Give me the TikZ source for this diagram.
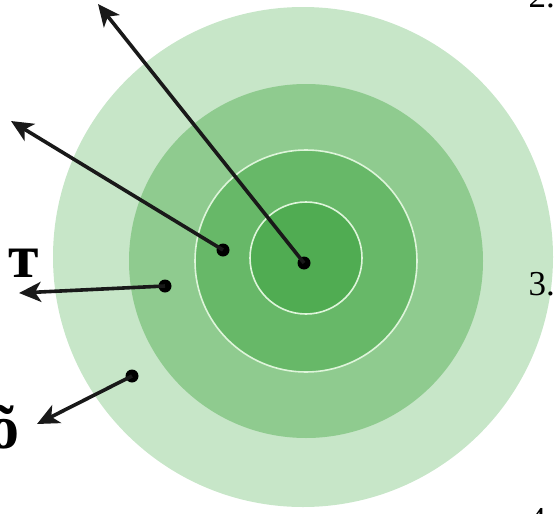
\documentclass[tikz,border=0pt]{standalone}
\usepackage{fontspec}
\setmainfont{Liberation Serif}
\usetikzlibrary{arrows.meta}
\definecolor{ringA}{RGB}{199,230,200}
\definecolor{ringB}{RGB}{143,203,143}
\definecolor{ringC}{RGB}{103,184,104}
\definecolor{ringD}{RGB}{80,172,82}
\definecolor{ringline}{RGB}{222,245,218}
\begin{document}
\begin{tikzpicture}[
    x=1pt, y=-1pt,
    dot/.style={circle, fill=black, inner sep=0pt, minimum size=13pt},
    pointer/.style={-{Stealth[length=22pt, width=20pt, inset=6pt]}, line width=3.6pt, draw=black!90},
    big/.style={font=\fontsize{62}{62}\selectfont\bfseries, inner sep=0pt},
    num/.style={font=\fontsize{35}{35}\selectfont, inner sep=0pt},
  ]
  \useasboundingbox (0,0) rectangle (557,514);
  \clip (0,0) rectangle (557,514);

  % rings
  \fill[ringA] (303,257) circle[radius=250];
  \fill[ringB] (306,261) circle[radius=177];
  \fill[ringC] (306,261) circle[radius=111];
  \draw[ringline, line width=1.6pt] (306,261) circle[radius=111];
  \fill[ringD] (306,258) circle[radius=56];
  \draw[ringline, line width=1.6pt] (306,258) circle[radius=56];

  % dots
  \node[dot] (core) at (304,263) {};
  \node[dot] (mid) at (223,250) {};
  \node[dot] (wide) at (165,286) {};
  \node[dot] (outer) at (132,376) {};

  \coordinate (tipA) at (98,4);
  \coordinate (tipB) at (11,121);
  \coordinate (tipC) at (19,293);
  \coordinate (tipD) at (37,424);

  \draw[pointer] (core.center) -- (tipA);
  \draw[pointer] (mid.center) -- (tipB);
  \draw[pointer] (wide.center) -- (tipC);
  \draw[pointer] (outer.center) -- (tipD);

  % labels
  \node[big, anchor=base east] (labT) at (39,277) {т};
  \node[big, anchor=base west] (labO) at (-12,448) {\~o};
  \node[num, anchor=base east] (two) at (555,8) {2.};
  \node[num, anchor=base east] (three) at (555,295) {3.};
  \node[num, anchor=base east] (four) at (555,531) {4.};
\end{tikzpicture}
\end{document}
